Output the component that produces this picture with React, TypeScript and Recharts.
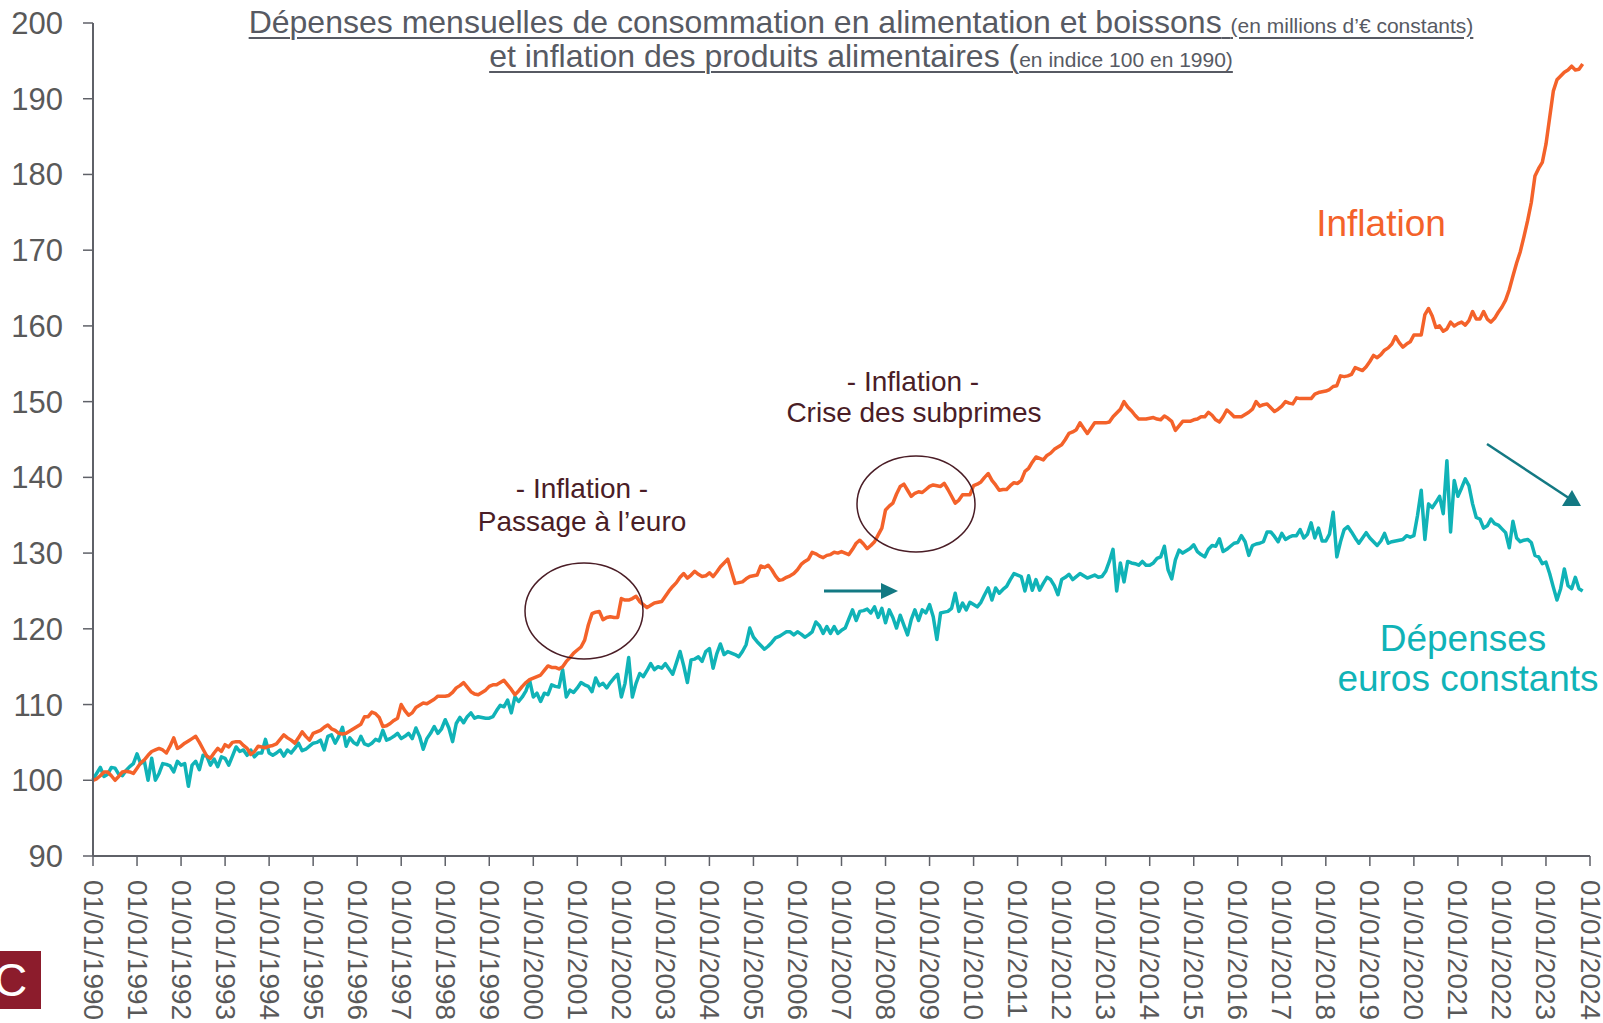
import React from 'react';
import { LineChart, Line, XAxis, YAxis } from 'recharts';

// Monthly values, Jan 1990 .. Nov 2023 (index 100 in 1990)
const inflation: number[] = [
  100.0, 100.2, 100.6, 101.1, 101.1, 100.6, 100.0, 100.5, 101.1, 101.2, 101.1, 100.9,
  101.6, 102.3, 102.7, 103.3, 103.8, 104.0, 104.2, 104.0, 103.6, 104.5, 105.6, 104.2,
  104.5, 104.9, 105.2, 105.5, 105.8, 105.0, 104.1, 103.2, 102.9, 103.6, 104.2, 103.8,
  104.7, 104.4, 105.0, 105.1, 105.1, 104.6, 104.2, 103.4, 103.8, 104.5, 104.4, 104.3,
  104.5, 104.6, 104.8, 105.4, 106.0, 105.6, 105.3, 104.9, 105.6, 106.4, 105.8, 105.3,
  106.2, 106.4, 106.6, 107.0, 107.3, 106.8, 106.6, 106.2, 106.1, 106.2, 106.5, 106.8,
  107.1, 107.4, 108.4, 108.4, 109.0, 108.8, 108.3, 107.1, 107.2, 107.5, 107.9, 108.2,
  110.0, 109.2, 108.6, 108.9, 109.6, 109.9, 110.2, 110.1, 110.4, 110.7, 111.1, 111.1,
  111.1, 111.2, 111.6, 112.2, 112.5, 112.9, 112.3, 111.7, 111.4, 111.3, 111.6, 111.9,
  112.4, 112.6, 112.6, 112.9, 113.2, 112.6, 112.0, 111.3, 111.8, 112.4, 112.9, 113.3,
  113.5, 113.7, 113.9, 114.5, 115.1, 114.9, 114.9, 114.7, 115.0, 115.7, 116.2, 116.8,
  117.2, 117.6, 118.5, 120.5, 122.0, 122.2, 122.3, 121.2, 121.5, 121.6, 121.5, 121.5,
  124.0, 123.8, 123.8, 124.0, 124.3, 123.6, 123.2, 122.8, 123.1, 123.4, 123.5, 123.6,
  124.3, 125.0, 125.6, 126.1, 126.8, 127.3, 126.7, 127.1, 127.6, 127.2, 126.9, 127.0,
  127.4, 126.9, 127.5, 128.2, 128.7, 129.2, 127.6, 126.0, 126.1, 126.2, 126.6, 126.9,
  127.0, 127.1, 128.3, 128.1, 128.4, 127.8, 127.0, 126.4, 126.5, 126.8, 127.0, 127.3,
  127.8, 128.5, 128.9, 129.2, 130.1, 129.9, 129.6, 129.4, 129.7, 129.8, 130.1, 130.0,
  130.2, 130.0, 129.8, 130.5, 131.3, 131.7, 131.2, 130.6, 131.0, 131.5, 132.4, 133.3,
  135.7, 136.2, 136.6, 137.8, 138.8, 139.1, 138.3, 137.5, 137.9, 138.1, 138.0, 138.4,
  138.8, 139.0, 138.9, 138.8, 139.2, 138.4, 137.5, 136.6, 137.0, 137.7, 137.7, 137.7,
  138.9, 139.1, 139.4, 140.0, 140.5, 139.6, 139.0, 138.3, 138.4, 138.4, 138.9, 139.3,
  139.2, 139.6, 140.8, 141.2, 142.0, 142.7, 142.5, 142.3, 142.9, 143.2, 143.7, 144.0,
  144.3, 145.0, 145.8, 146.0, 146.3, 147.2, 146.5, 145.8, 146.5, 147.2, 147.2, 147.2,
  147.2, 147.3, 148.0, 148.5, 149.0, 150.0, 149.3, 148.8, 148.2, 147.7, 147.7, 147.7,
  147.8, 147.9, 147.7, 147.6, 148.1, 147.8, 147.4, 146.2, 146.8, 147.4, 147.4, 147.4,
  147.6, 147.7, 148.0, 148.0, 148.6, 148.2, 147.6, 147.3, 148.0, 148.9, 148.5, 148.0,
  148.0, 148.0, 148.3, 148.6, 149.0, 150.0, 149.4, 149.6, 149.7, 149.2, 148.7, 149.0,
  149.4, 150.0, 149.8, 149.7, 150.5, 150.4, 150.4, 150.4, 150.4, 151.0, 151.2, 151.3,
  151.4, 151.6, 152.0, 152.1, 153.4, 153.3, 153.4, 153.6, 154.5, 154.3, 154.1, 154.6,
  155.3, 156.1, 155.8, 156.2, 156.8, 157.1, 157.6, 158.6, 157.8, 157.2, 157.6, 157.9,
  158.8, 158.8, 158.8, 161.5, 162.3, 161.3, 159.8, 160.0, 159.3, 159.6, 160.5, 160.0,
  160.3, 160.5, 160.1, 160.7, 161.9, 160.9, 160.9, 161.9, 160.9, 160.5, 161.0, 161.8,
  162.5, 163.4, 164.8, 166.6, 168.3, 169.8, 171.8, 173.9, 176.3, 179.8, 180.8, 181.6,
  184.0, 187.5, 191.0, 192.5, 193.0, 193.5, 193.8, 194.3, 193.8, 193.9, 194.6,
];

// Monthly food & drink spending in constant euros (index 100 in 1990)
const depenses: number[] = [
  100.1, 100.9, 101.7, 100.5, 100.8, 101.7, 101.6, 100.8, 100.6, 101.3, 101.8, 102.2,
  103.5, 102.2, 102.5, 100.0, 102.9, 100.0, 100.9, 102.2, 102.1, 101.9, 101.1, 102.5,
  102.0, 102.2, 99.2, 102.0, 102.5, 101.4, 103.3, 103.2, 102.0, 102.8, 101.8, 103.1,
  102.9, 102.0, 103.2, 104.4, 103.8, 104.0, 103.3, 104.0, 103.1, 103.6, 103.6, 105.4,
  103.6, 103.3, 103.6, 104.0, 103.2, 104.0, 103.6, 104.2, 104.9, 103.9, 104.1, 104.5,
  104.9, 105.0, 105.3, 104.0, 105.8, 106.0, 104.9, 105.8, 107.0, 104.5, 105.6, 105.0,
  104.7, 105.8, 104.8, 104.6, 104.9, 105.4, 105.2, 106.6, 105.3, 105.5, 105.8, 106.2,
  105.5, 105.8, 106.2, 105.5, 106.9, 105.8, 104.1, 105.5, 106.2, 107.1, 106.2, 106.8,
  108.0, 106.9, 105.1, 107.5, 108.3, 107.6, 108.4, 108.9, 108.2, 108.4, 108.3, 108.2,
  108.2, 108.4, 109.2, 109.9, 109.7, 110.6, 108.9, 111.0, 110.4, 111.0, 111.8, 113.2,
  111.0, 111.5, 110.4, 111.5, 111.3, 112.6, 112.4, 112.3, 114.6, 111.0, 111.9, 111.6,
  112.2, 112.9, 112.6, 112.4, 111.7, 113.5, 112.5, 112.8, 112.2, 112.9, 113.5, 114.0,
  111.0, 112.8, 116.2, 111.0, 112.8, 114.1, 113.7, 114.5, 115.4, 114.6, 115.0, 114.8,
  115.4, 114.7, 114.0, 115.5, 117.0, 115.1, 112.9, 115.9, 116.0, 116.3, 115.7, 117.0,
  117.4, 114.8, 116.7, 118.0, 116.6, 117.0, 116.8, 116.6, 116.3, 117.0, 117.9, 120.1,
  118.9, 118.3, 117.8, 117.3, 117.7, 118.2, 118.8, 119.0, 119.3, 119.6, 119.6, 119.2,
  119.6, 119.3, 118.9, 119.2, 119.6, 120.9, 120.4, 119.4, 120.3, 119.4, 120.3, 119.4,
  119.8, 120.1, 121.3, 122.5, 121.1, 122.3, 122.4, 122.6, 122.1, 122.9, 121.5, 122.7,
  120.8, 122.5, 121.5, 120.1, 121.8, 120.5, 119.2, 121.2, 122.5, 121.1, 122.5, 122.1,
  123.2, 121.6, 118.6, 122.1, 122.2, 122.3, 122.7, 124.7, 122.3, 123.4, 122.5, 123.5,
  123.2, 122.9, 123.5, 124.5, 125.4, 123.8, 125.4, 124.7, 125.2, 125.6, 126.5, 127.3,
  127.1, 126.9, 125.0, 127.0, 125.1, 126.5, 125.1, 126.0, 126.8, 126.5, 125.7, 124.5,
  126.5, 126.8, 127.2, 126.5, 126.9, 127.3, 127.0, 126.7, 126.9, 127.1, 126.8, 126.9,
  127.6, 128.9, 130.5, 125.0, 128.7, 126.2, 128.9, 128.7, 128.6, 128.4, 128.9, 128.4,
  128.4, 128.7, 129.3, 129.5, 130.9, 127.8, 126.6, 129.1, 130.4, 130.0, 130.3, 130.6,
  131.1, 130.2, 129.8, 129.5, 130.5, 131.0, 130.9, 131.9, 130.2, 130.5, 130.9, 131.3,
  131.4, 132.3, 131.5, 129.7, 131.0, 131.2, 131.3, 131.5, 132.8, 132.8, 132.2, 131.5,
  132.6, 131.8, 132.1, 132.3, 132.3, 133.1, 132.0, 132.5, 134.0, 132.0, 133.3, 131.6,
  131.6, 132.5, 135.4, 129.5, 131.5, 133.1, 133.5, 132.8, 132.0, 131.3, 132.0, 132.7,
  132.0, 131.5, 131.0, 131.6, 132.6, 131.3, 131.5, 131.6, 131.7, 131.8, 132.3, 132.1,
  132.3, 135.0, 138.3, 131.8, 136.5, 136.0, 136.7, 137.5, 135.2, 142.2, 132.8, 139.6,
  137.5, 138.6, 139.8, 138.9, 136.5, 134.7, 134.5, 133.3, 133.6, 134.5, 133.9, 133.7,
  133.2, 132.7, 130.7, 134.2, 132.0, 131.5, 131.7, 131.8, 131.4, 129.7, 129.5, 128.6,
  128.8, 127.3, 125.5, 123.8, 125.3, 127.9, 125.7, 125.3, 126.8, 125.3, 125.0,
];

const firstYear = 1990;
const tickYears: number[] = [
  1990, 1991, 1992, 1993, 1994, 1995, 1996, 1997, 1998, 1999, 2000, 2001,
  2002, 2003, 2004, 2005, 2006, 2007, 2008, 2009, 2010, 2011, 2012, 2013,
  2014, 2015, 2016, 2017, 2018, 2019, 2020, 2021, 2022, 2023, 2024,
];
const yTicks: number[] = [90, 100, 110, 120, 130, 140, 150, 160, 170, 180, 190, 200];

const data = inflation.map((v, i) => ({ m: i, inflation: v, depenses: depenses[i] }));
const xTicks = tickYears.map((y) => (y - firstYear) * 12);

const FONT = "'Liberation Sans', Arial, Helvetica, sans-serif";
const AXIS = '#5f6168';
const TXT = '#595959';
const ORANGE = '#F4622A';
const TEAL = '#10B3B7';
const ARROW = '#137983';
const MAROON = '#4a1d26';

const XTick = (props: any) => {
  const { x, y, payload } = props;
  const year = firstYear + Math.round(payload.value / 12);
  return (
    <text
      x={0}
      y={0}
      transform={`translate(${x},${y + 12}) rotate(90)`}
      textAnchor="start"
      dominantBaseline="central"
      fontSize={28}
      fill={TXT}
      fontFamily={FONT}
    >
      {`01/01/${year}`}
    </text>
  );
};

export default function App() {
  return (
    <div
      style={{
        position: 'absolute',
        left: 0,
        top: 0,
        width: 1603,
        height: 1023,
        overflow: 'hidden',
        background: '#ffffff',
        fontFamily: FONT,
      }}
    >
      <LineChart
        width={1603}
        height={1023}
        data={data}
        margin={{ top: 23, right: 13, bottom: 0, left: 0 }}
      >
        <XAxis
          dataKey="m"
          type="number"
          domain={[0, 408]}
          ticks={xTicks}
          interval={0}
          height={167}
          tickSize={10}
          tickMargin={2}
          tick={<XTick />}
          axisLine={{ stroke: AXIS, strokeWidth: 2 }}
          tickLine={{ stroke: AXIS, strokeWidth: 1.5 }}
        />
        <YAxis
          type="number"
          domain={[90, 200]}
          ticks={yTicks}
          interval={0}
          width={93}
          tickSize={10}
          tickMargin={20}
          tick={{ fontSize: 31, fill: TXT, fontFamily: FONT }}
          axisLine={{ stroke: AXIS, strokeWidth: 2 }}
          tickLine={{ stroke: AXIS, strokeWidth: 1.5 }}
        />
        <Line
          type="linear"
          dataKey="depenses"
          stroke={TEAL}
          strokeWidth={3.5}
          dot={false}
          strokeLinejoin="round"
          isAnimationActive={false}
        />
        <Line
          type="linear"
          dataKey="inflation"
          stroke={ORANGE}
          strokeWidth={3.5}
          dot={false}
          strokeLinejoin="round"
          isAnimationActive={false}
        />
      </LineChart>

      {/* Title */}
      <div
        style={{
          position: 'absolute',
          left: 161,
          top: 4.7,
          width: 1400,
          textAlign: 'center',
          color: '#575a63',
          fontSize: 32,
          lineHeight: '34.5px',
          whiteSpace: 'nowrap',
        }}
      >
        <div>
          <span
            style={{
              textDecoration: 'underline',
              textDecorationThickness: '2px',
              textUnderlineOffset: '4px',
            }}
          >
            Dépenses mensuelles de consommation en alimentation et boissons{' '}
            <span style={{ fontSize: 21 }}>(en millions d’€ constants)</span>
          </span>
        </div>
        <div style={{ marginTop: -4 }}>
          <span
            style={{
              textDecoration: 'underline',
              textDecorationThickness: '2px',
              textUnderlineOffset: '4px',
            }}
          >
            et inflation des produits alimentaires (
            <span style={{ fontSize: 21 }}>en indice 100 en 1990)</span>
          </span>
        </div>
      </div>

      {/* Annotations */}
      <svg
        width={1603}
        height={1023}
        style={{ position: 'absolute', left: 0, top: 0, pointerEvents: 'none' }}
      >
        <g fontFamily={FONT}>
          <text x={1381} y={236} fontSize={37} fill={ORANGE} textAnchor="middle">
            Inflation
          </text>
          <text x={1463} y={651} fontSize={37} fill={TEAL} textAnchor="middle">
            Dépenses
          </text>
          <text x={1468} y={691} fontSize={37} fill={TEAL} textAnchor="middle">
            euros constants
          </text>

          <text x={582} y={498} fontSize={28} fill={MAROON} textAnchor="middle">
            - Inflation -
          </text>
          <text x={582} y={530.5} fontSize={28} fill={MAROON} textAnchor="middle">
            Passage à l’euro
          </text>
          <text x={913} y={390.5} fontSize={28} fill={MAROON} textAnchor="middle">
            - Inflation -
          </text>
          <text x={914} y={422} fontSize={28} fill={MAROON} textAnchor="middle">
            Crise des subprimes
          </text>
        </g>

        <ellipse cx={584} cy={611} rx={59} ry={48} fill="none" stroke={MAROON} strokeWidth={1.5} />
        <ellipse cx={916} cy={504} rx={59} ry={48} fill="none" stroke={MAROON} strokeWidth={1.5} />

        {/* horizontal arrow */}
        <line x1={824} y1={591} x2={884} y2={591} stroke={ARROW} strokeWidth={3} />
        <polygon points="898,591 881,583 881,599" fill={ARROW} />

        {/* diagonal arrow */}
        <line x1={1487} y1={444} x2={1568} y2={497.5} stroke={ARROW} strokeWidth={2.5} />
        <polygon points="1581,506 1562,506 1572,490" fill={ARROW} />

        {/* partial logo */}
        <rect x={0} y={951} width={41} height={58} fill="#8c1c2c" />
        <text x={-6} y={996} fontSize={46} fill="#ffffff" fontFamily={FONT}>
          C
        </text>
      </svg>
    </div>
  );
}
